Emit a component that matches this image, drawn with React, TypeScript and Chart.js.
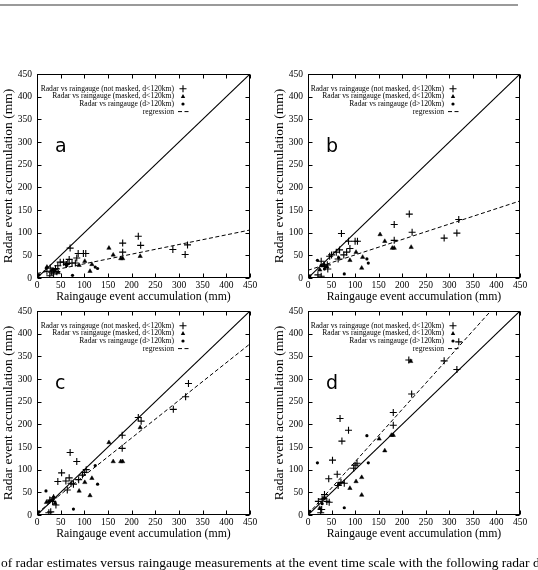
import { useEffect, useRef } from 'react';
import { Chart, registerables } from 'chart.js';

Chart.register(...registerables);

type Pt = [number, number];

const SERIF = '"Liberation Serif", "Times New Roman", serif';
const SANS = '"DejaVu Sans", sans-serif';

const X_TITLE = 'Raingauge event accumulation (mm)';
const Y_TITLE = 'Radar event accumulation (mm)';
const SERIES_LABELS = [
  'Radar vs raingauge (not masked, d<120km)',
  'Radar vs raingauge (masked, d<120km)',
  'Radar vs raingauge (d>120km)',
  'regression',
];
const AXIS_MIN = 0;
const AXIS_MAX = 450;
const AXIS_STEP = 50;
const CAPTION =
  'of radar estimates versus raingauge measurements at the event time scale with the following radar d';

// ---- panel a ----
const NOT_MASKED_A: Pt[] = [
  [214, 92], [219, 72], [181, 77], [181, 57], [287, 63], [318, 73], [313, 52],
  [70, 66], [87, 54], [98, 54], [103, 54], [84, 44], [68, 41], [49, 35], [56, 35],
  [65, 32], [74, 33], [81, 33], [62, 30], [44, 27], [28, 22], [39, 21], [21, 15],
  [27, 5], [35, 9], [31, 13], [42, 14],
];
const MASKED_A: Pt[] = [
  [152, 66], [161, 51], [177, 43], [181, 43], [218, 48], [101, 37], [89, 28],
  [112, 15], [116, 30], [21, 24], [32, 17], [37, 15], [45, 12],
];
const FAR_A: Pt[] = [
  [75, 6], [4, 7], [20, 22], [35, 19], [123, 24], [128, 21], [62, 28],
];
const REG_A = { intercept: 10, slope: 0.213 };

// ---- panel b ----
const NOT_MASKED_B: Pt[] = [
  [215, 141], [183, 118], [221, 101], [183, 83], [320, 129], [316, 99], [289, 88],
  [71, 98], [86, 81], [100, 81], [105, 81], [89, 65], [67, 62], [82, 57], [60, 57],
  [76, 51], [50, 51], [46, 48], [28, 37], [41, 29], [42, 20], [21, 7], [28, 4],
  [64, 42], [35, 25],
];
const MASKED_B: Pt[] = [
  [153, 96], [163, 81], [179, 66], [183, 66], [219, 68], [102, 57], [89, 39],
  [114, 22], [116, 46], [34, 30], [25, 18], [40, 25],
];
const FAR_B: Pt[] = [
  [77, 9], [20, 39], [4, 5], [125, 42], [128, 33], [28, 28], [65, 45], [35, 20],
];
const REG_B = { intercept: 17, slope: 0.34 };

// ---- panel c ----
const NOT_MASKED_C: Pt[] = [
  [320, 290], [314, 261], [288, 233], [214, 215], [220, 207], [180, 176], [180, 147],
  [70, 138], [84, 118], [52, 93], [44, 74], [61, 75], [68, 82], [64, 55], [77, 68],
  [96, 88], [100, 94], [27, 33], [40, 22], [29, 7], [25, 5], [35, 38], [33, 30],
  [72, 70], [88, 78], [104, 100],
];
const MASKED_C: Pt[] = [
  [218, 193], [152, 160], [161, 118], [177, 118], [181, 118], [116, 81], [101, 72],
  [89, 53], [112, 43], [20, 28], [30, 32], [38, 26],
];
const FAR_C: Pt[] = [
  [19, 53], [4, 7], [77, 13], [123, 109], [128, 68], [35, 40], [25, 30],
];
const REG_C = { intercept: 4, slope: 0.83 };

// ---- panel d ----
const NOT_MASKED_D: Pt[] = [
  [214, 342], [289, 340], [320, 382], [316, 321], [220, 267], [181, 226], [181, 198],
  [68, 213], [86, 187], [72, 163], [52, 121], [44, 80], [62, 90], [64, 65], [77, 70],
  [97, 103], [100, 110], [104, 114], [30, 35], [40, 30], [45, 28], [27, 5], [29, 12],
  [35, 45], [22, 30], [70, 72],
];
const MASKED_D: Pt[] = [
  [218, 339], [151, 168], [177, 176], [181, 176], [163, 142], [114, 83], [102, 74],
  [89, 59], [114, 44], [25, 15], [35, 38],
];
const FAR_D: Pt[] = [
  [125, 175], [128, 115], [20, 115], [77, 16], [4, 8], [30, 25], [65, 68],
];
const REG_D = { intercept: 2, slope: 1.155 };

// canvas geometry for one panel: y-axis box + plot + right margin
const Y_AXIS_W = 37;
const X_AXIS_H = 28;
const PAD_TOP = 14;
const PAD_RIGHT = 15;

const toXY = (pts: Pt[]) => pts.map(([x, y]) => ({ x, y }));

// frame with inward (mirrored) tick marks, legend block and panel letter
const decorPlugin = {
  id: 'panelDecor',
  afterDatasetsDraw(chart: any, _args: any, opts: any) {
    const { ctx, chartArea, scales } = chart;
    const { left, right, top, bottom } = chartArea;
    const L = Math.round(left) + 0.5;
    const R = Math.round(right) - 0.5;
    const T = Math.round(top) + 0.5;
    const B = Math.round(bottom) - 0.5;
    ctx.save();
    ctx.strokeStyle = '#000';
    ctx.lineWidth = 1;
    ctx.setLineDash([]);
    ctx.strokeRect(L, T, R - L, B - T);
    const tl = 4;
    ctx.beginPath();
    for (const t of scales.x.ticks) {
      const px = Math.round(scales.x.getPixelForValue(t.value)) + 0.5;
      ctx.moveTo(px, B); ctx.lineTo(px, B - tl);
      ctx.moveTo(px, T); ctx.lineTo(px, T + tl);
    }
    for (const t of scales.y.ticks) {
      const py = Math.round(scales.y.getPixelForValue(t.value)) + 0.5;
      ctx.moveTo(L, py); ctx.lineTo(L + tl, py);
      ctx.moveTo(R, py); ctx.lineTo(R - tl, py);
    }
    ctx.stroke();

    // legend
    const ds = chart.data.datasets;
    const textRight = right - 76;
    const symX = right - 67;
    ctx.font = `7.6px ${SERIF}`;
    ctx.fillStyle = '#000';
    ctx.textAlign = 'right';
    ctx.textBaseline = 'middle';
    for (let i = 0; i < 4; i++) {
      const yy = top + 14.8 + i * 7.6;
      ctx.fillText(ds[i].label, textRight, yy);
      ctx.beginPath();
      if (i === 0) {
        ctx.lineWidth = 1.1;
        ctx.moveTo(symX - 3.5, yy); ctx.lineTo(symX + 3.5, yy);
        ctx.moveTo(symX, yy - 3.5); ctx.lineTo(symX, yy + 3.5);
        ctx.stroke();
      } else if (i === 1) {
        ctx.moveTo(symX, yy - 2.4); ctx.lineTo(symX + 2.2, yy + 1.5); ctx.lineTo(symX - 2.2, yy + 1.5);
        ctx.closePath();
        ctx.fill();
      } else if (i === 2) {
        ctx.arc(symX, yy, 1.6, 0, Math.PI * 2);
        ctx.fill();
      } else {
        ctx.lineWidth = 1;
        ctx.setLineDash([4, 2.5]);
        ctx.moveTo(symX - 5, yy); ctx.lineTo(symX + 6, yy);
        ctx.stroke();
        ctx.setLineDash([]);
      }
    }

    // panel letter
    ctx.font = `19px ${SANS}`;
    ctx.textAlign = 'left';
    ctx.textBaseline = 'alphabetic';
    ctx.fillText(opts.letter, left + 18, top + 78);
    ctx.restore();
  },
};

interface PanelProps {
  left: number;
  top: number;
  plotWidth: number;
  plotHeight: number;
  letter: string;
  notMasked: Pt[];
  masked: Pt[];
  far: Pt[];
  reg: { intercept: number; slope: number };
}

function Panel({ left, top, plotWidth, plotHeight, letter, notMasked, masked, far, reg }: PanelProps) {
  const ref = useRef<HTMLCanvasElement>(null);
  const width = Y_AXIS_W + plotWidth + PAD_RIGHT;
  const height = PAD_TOP + plotHeight + X_AXIS_H;

  useEffect(() => {
    const chart = new Chart(ref.current as HTMLCanvasElement, {
      type: 'scatter',
      data: {
        datasets: [
          {
            label: SERIES_LABELS[0],
            data: toXY(notMasked),
            pointStyle: 'cross',
            pointRadius: 3.5,
            borderColor: '#000',
            backgroundColor: '#000',
            borderWidth: 1.1,
          },
          {
            label: SERIES_LABELS[1],
            data: toXY(masked),
            pointStyle: 'triangle',
            pointRadius: 2.5,
            borderColor: '#000',
            backgroundColor: '#000',
            borderWidth: 0.5,
          },
          {
            label: SERIES_LABELS[2],
            data: toXY(far),
            pointStyle: 'circle',
            pointRadius: 1.6,
            borderColor: '#000',
            backgroundColor: '#000',
            borderWidth: 0,
          },
          {
            label: SERIES_LABELS[3],
            data: [
              { x: AXIS_MIN, y: reg.intercept },
              { x: AXIS_MAX, y: reg.intercept + reg.slope * AXIS_MAX },
            ],
            showLine: true,
            borderColor: '#000',
            borderWidth: 1,
            borderDash: [4, 2.5],
            pointRadius: 0,
          },
          {
            label: '1:1',
            data: [
              { x: AXIS_MIN, y: AXIS_MIN },
              { x: AXIS_MAX, y: AXIS_MAX },
            ],
            showLine: true,
            borderColor: '#000',
            borderWidth: 1.1,
            pointRadius: 0,
          },
        ],
      } as any,
      options: {
        responsive: false,
        animation: false,
        devicePixelRatio: 1,
        events: [],
        layout: { padding: { top: PAD_TOP, right: PAD_RIGHT, left: 0, bottom: 0 } },
        plugins: {
          legend: { display: false },
          tooltip: { enabled: false },
          panelDecor: { letter },
        } as any,
        scales: {
          x: {
            type: 'linear',
            min: AXIS_MIN,
            max: AXIS_MAX,
            grid: { display: false, drawTicks: false },
            border: { display: false },
            ticks: {
              stepSize: AXIS_STEP,
              color: '#000',
              font: { family: SERIF, size: 9.5 },
              padding: 2,
              maxRotation: 0,
              autoSkip: false,
            },
            title: {
              display: true,
              text: X_TITLE,
              color: '#000',
              font: { family: SERIF, size: 11.8 },
              padding: { top: 0, bottom: 2 },
            },
            afterFit: (s: any) => {
              s.height = X_AXIS_H;
            },
          },
          y: {
            type: 'linear',
            min: AXIS_MIN,
            max: AXIS_MAX,
            grid: { display: false, drawTicks: false },
            border: { display: false },
            ticks: {
              stepSize: AXIS_STEP,
              color: '#000',
              font: { family: SERIF, size: 9.5 },
              padding: 5,
              autoSkip: false,
            },
            title: {
              display: true,
              text: Y_TITLE,
              color: '#000',
              font: { family: SERIF, size: 13.5 },
              padding: { top: 0, bottom: 0 },
            },
            afterFit: (s: any) => {
              s.width = Y_AXIS_W;
            },
          },
        },
      } as any,
      plugins: [decorPlugin],
    });
    return () => chart.destroy();
  }, []);

  return (
    <canvas
      ref={ref}
      width={width}
      height={height}
      style={{ position: 'absolute', left, top, width, height }}
    />
  );
}

export default function App() {
  return (
    <div
      style={{
        position: 'fixed',
        left: 0,
        top: 0,
        width: 538,
        height: 570,
        background: '#fff',
        overflow: 'hidden',
      }}
    >
      <div
        style={{
          position: 'absolute',
          left: 0,
          top: 4,
          width: 518,
          height: 2,
          background: '#9a9a9a',
        }}
      />
      <Panel left={0} top={60} plotWidth={213} plotHeight={204} letter="a"
        notMasked={NOT_MASKED_A} masked={MASKED_A} far={FAR_A} reg={REG_A} />
      <Panel left={271} top={60} plotWidth={212} plotHeight={204} letter="b"
        notMasked={NOT_MASKED_B} masked={MASKED_B} far={FAR_B} reg={REG_B} />
      <Panel left={0} top={297} plotWidth={213} plotHeight={204} letter="c"
        notMasked={NOT_MASKED_C} masked={MASKED_C} far={FAR_C} reg={REG_C} />
      <Panel left={271} top={297} plotWidth={212} plotHeight={204} letter="d"
        notMasked={NOT_MASKED_D} masked={MASKED_D} far={FAR_D} reg={REG_D} />
      <div
        style={{
          position: 'absolute',
          left: 1,
          top: 555,
          whiteSpace: 'nowrap',
          fontFamily: SERIF,
          fontSize: 13.5,
          lineHeight: '16px',
          color: '#000',
        }}
      >
        {CAPTION}
      </div>
    </div>
  );
}
